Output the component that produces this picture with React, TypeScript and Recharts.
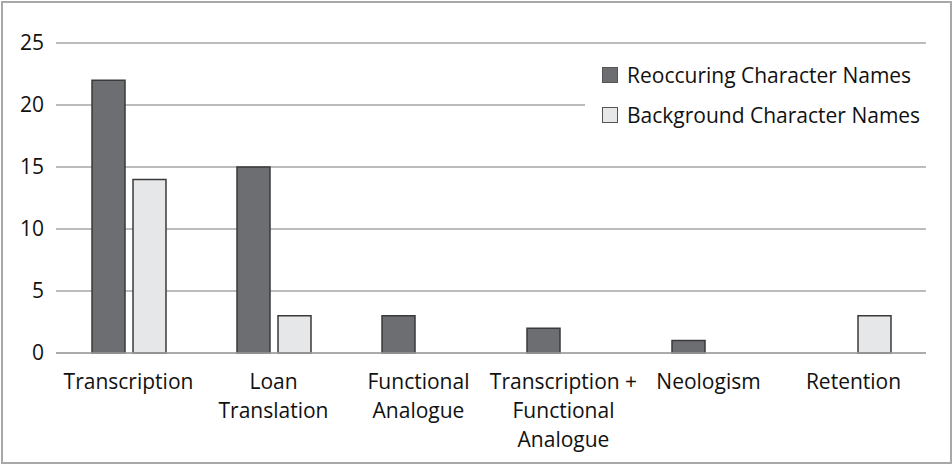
import { BarChart, Bar, XAxis, YAxis, CartesianGrid, Legend } from "recharts";

const categories = [
  "Transcription",
  "Loan\nTranslation",
  "Functional\nAnalogue",
  "Transcription +\nFunctional\nAnalogue",
  "Neologism",
  "Retention",
];
const reoccuring = [22, 15, 3, 2, 1, 0];
const background = [14, 3, 0, 0, 0, 3];
const yTicks = [0, 5, 10, 15, 20, 25];

const seriesInfo = [
  { key: "reoccuring", label: "Reoccuring Character Names", fill: "#6d6e71" },
  { key: "background", label: "Background Character Names", fill: "#e6e7e8" },
];

const FONT = "'Open Sans', sans-serif";
const FONT_SIZE = 21;

const data = categories.map((c, i) => ({
  name: c,
  reoccuring: reoccuring[i],
  background: background[i],
}));

/** 여러 줄 카테고리 라벨 */
function CategoryTick(props: unknown) {
  const p = props as { x: number; y: number; payload: { value: string } };
  const lines = String(p.payload.value).split("\n");
  return (
    <text x={p.x} y={p.y} textAnchor="middle" fill="#111" fontSize={FONT_SIZE} fontFamily={FONT}>
      {lines.map((l, i) => (
        <tspan key={i} x={p.x} y={p.y + 28 + i * 29}>
          {l}
        </tspan>
      ))}
    </text>
  );
}

function LegendBox() {
  return (
    <div
      style={{
        position: "absolute",
        left: 585,
        top: 55,
        width: 346,
        height: 84,
        background: "#fff",
        fontFamily: FONT,
        fontSize: FONT_SIZE,
        color: "#111",
      }}
    >
      {seriesInfo.map((s, i) => (
        <div
          key={s.key}
          style={{
            position: "absolute",
            left: 17,
            top: 6 + i * 40,
            display: "flex",
            alignItems: "center",
            whiteSpace: "nowrap",
          }}
        >
          <span
            style={{
              display: "inline-block",
              width: 14,
              height: 14,
              background: s.fill,
              border: "1px solid #555",
              marginRight: 9,
            }}
          />
          {s.label}
        </div>
      ))}
    </div>
  );
}

export default function App() {
  return (
    <div
      style={{
        position: "absolute",
        left: 0,
        top: 0,
        width: 952,
        height: 464,
        background: "#fff",
      }}
    >
      <div
        style={{
          position: "absolute",
          left: 1,
          top: 1,
          width: 947,
          height: 459,
          border: "2px solid #a8a8a8",
          boxSizing: "content-box",
          pointerEvents: "none",
        }}
      />
      <BarChart
        width={952}
        height={464}
        data={data}
        margin={{ top: 43, right: 26, bottom: 11, left: 0 }}
        barSize={33}
        barGap={8}
      >
        <CartesianGrid vertical={false} stroke="#a6a6a6" strokeWidth={1.5} />
        <XAxis
          dataKey="name"
          height={100}
          axisLine={{ stroke: "#a6a6a6", strokeWidth: 1.5 }}
          tickLine={false}
          interval={0}
          tick={CategoryTick}
        />
        <YAxis
          width={56}
          domain={[0, 25]}
          ticks={yTicks}
          axisLine={false}
          tickLine={false}
          tickMargin={6}
          tick={{ fill: "#111", fontSize: FONT_SIZE, fontFamily: FONT }}
        />
        <Legend content={LegendBox} wrapperStyle={{ position: "absolute", left: 0, top: 0 }} />
        {seriesInfo.map((s) => (
          <Bar
            key={s.key}
            dataKey={s.key}
            name={s.label}
            fill={s.fill}
            stroke="#3a3a3a"
            strokeWidth={1.5}
            isAnimationActive={false}
          />
        ))}
      </BarChart>
    </div>
  );
}
